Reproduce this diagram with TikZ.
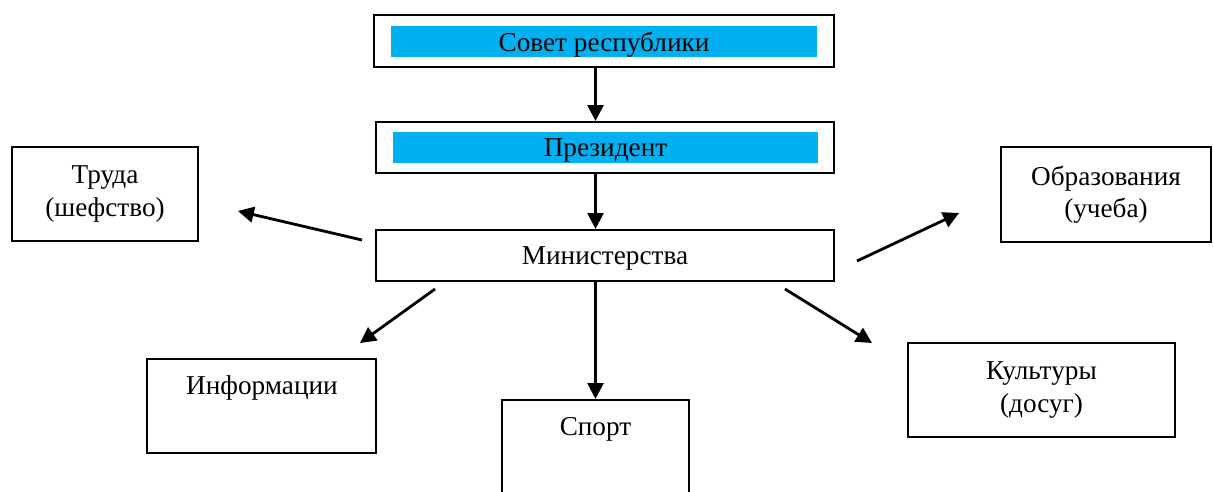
\documentclass[tikz,border=0pt]{standalone}
\usepackage{fontspec}
\setmainfont{Liberation Serif}
\usetikzlibrary{arrows.meta}
\definecolor{barblue}{RGB}{0,176,240}
\tikzset{
  box/.style={draw, line width=1.2pt, inner sep=0pt, align=center},
  bar/.style={fill=barblue, inner sep=0pt, text depth=0pt},
  arr/.style={line width=1.6pt, -{Triangle[length=9pt,width=9pt]}}
}
\begin{document}
\begin{tikzpicture}[x=0.02cm, y=-0.02cm, font=\fontsize{15.5}{18.5}\selectfont]
    \useasboundingbox (0,0) rectangle (1213,491);

    % --- Top chain ---
    \node[box, minimum width=9.2cm, minimum height=1.04cm] (sovet) at (604,41) {};
    \node[bar, minimum width=8.52cm, minimum height=0.62cm] (sovetbar) at (604,41.5) {Совет республики};

    \node[box, minimum width=9.16cm, minimum height=1.02cm] (prez) at (605,147.5) {};
    \node[bar, minimum width=8.5cm, minimum height=0.62cm] (prezbar) at (605.5,147.5) {Президент};

    \node[box, text depth=0pt, minimum width=9.16cm, minimum height=1.02cm] (minis) at (605,255.5) {Министерства};

    % --- Ministries ---
    \node[box, minimum width=3.72cm, minimum height=1.88cm] (trud) at (105,194) {Труда\\(шефство)};
    \node[box, minimum width=4.2cm, minimum height=1.9cm] (obraz) at (1106,194.5) {Образования\\(учеба)};
    \node[box, minimum width=5.34cm, minimum height=1.88cm] (kult) at (1041.5,390) {Культуры\\(досуг)};

    % boxes with the text at the top
    \node[box, minimum width=4.58cm, minimum height=1.88cm] (inform) at (261.5,406) {};
    \node (informtext) at (262,388) {Информации};
    \node[box, minimum width=3.74cm, minimum height=2.2cm] (sport) at (595.5,455) {};
    \node (sporttext) at (595.5,429) {Спорт};

    % --- Arrow ends ---
    \coordinate (T1) at (362,240);
    \coordinate (T2) at (238,211);
    \coordinate (O1) at (857,261);
    \coordinate (O2) at (959,213);
    \coordinate (I1) at (435,289);
    \coordinate (I2) at (360,343);
    \coordinate (K1) at (785,289);
    \coordinate (K2) at (872,343);

    % --- Arrows ---
    \draw[arr] (sovet.south -| sport.north) -- (prez.north -| sport.north);
    \draw[arr] (prez.south -| sport.north) -- (minis.north -| sport.north);
    \draw[arr] (minis.south -| sport.north) -- (sport.north);
    \draw[arr] (T1) -- (T2);
    \draw[arr] (O1) -- (O2);
    \draw[arr] (I1) -- (I2);
    \draw[arr] (K1) -- (K2);

\end{tikzpicture}
\end{document}
